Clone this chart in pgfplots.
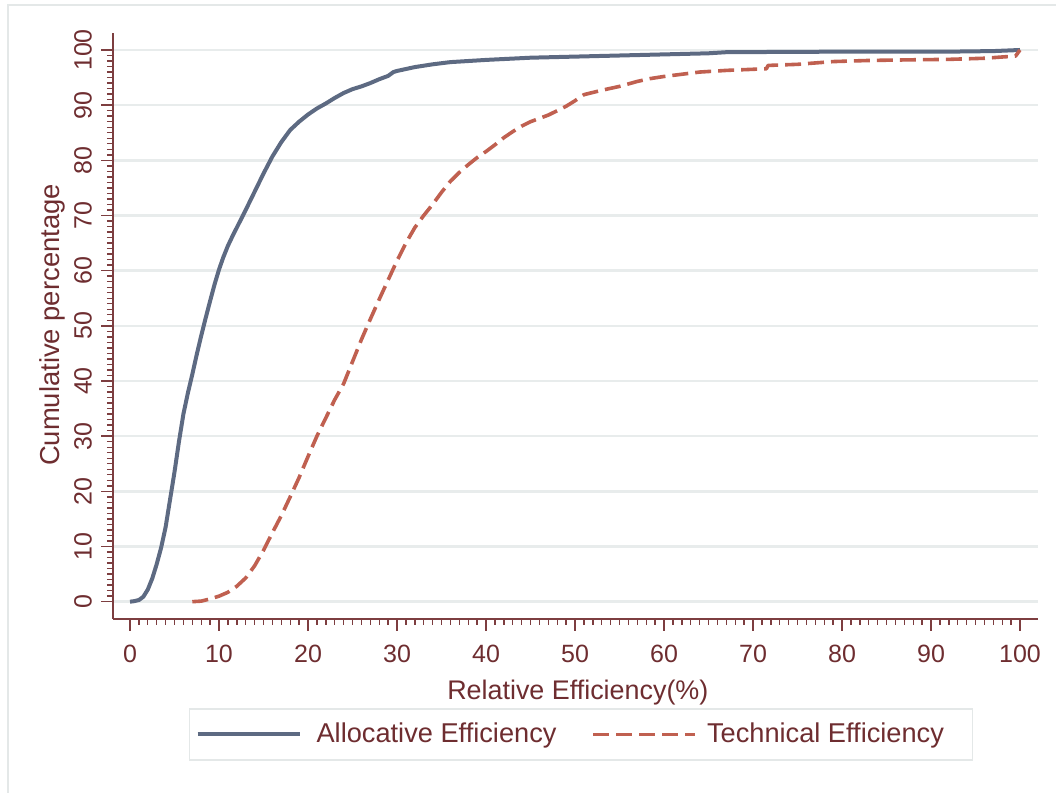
\documentclass[border=0pt]{standalone}
\usepackage{fontspec}
\setmainfont{Liberation Sans}
\usepackage{pgfplots}
\pgfplotsset{compat=1.18}
\definecolor{aecol}{RGB}{93,106,130}
\definecolor{tecol}{RGB}{192,96,80}
\definecolor{labcol}{RGB}{110,45,48}
\definecolor{axcol}{RGB}{125,62,64}
\definecolor{gridcol}{RGB}{232,236,236}
\definecolor{framecol}{RGB}{228,232,232}
\pgfplotstableread{
x y
0 0
0.5 0.1
1 0.3
1.5 0.9
2 2.2
2.5 4.2
3 6.8
3.5 9.8
4 13.5
4.5 18.5
5 23.5
5.5 29
6 34
6.5 37.8
7 41.2
7.5 44.8
8 48.2
8.5 51.4
9 54.5
9.5 57.5
10 60.2
10.5 62.5
11 64.5
11.5 66.2
12 67.8
12.5 69.4
13 71
14 74.3
15 77.6
16 80.7
17 83.3
18 85.5
19 87
20 88.3
21 89.4
22 90.3
23 91.3
24 92.2
25 92.9
26 93.4
27 94
28 94.7
29 95.3
29.6 96.0
30 96.2
32 96.9
34 97.4
36 97.8
38 98.0
40 98.2
45 98.6
50 98.8
55 99.0
60 99.2
65 99.4
67 99.6
80 99.7
92 99.7
97 99.8
100 100
}\allocative
\pgfplotstableread{
x y
7 0
8 0.1
9 0.5
10 1.0
11 1.7
12 2.8
13 4.3
14 6.5
15 9.3
16 12.5
17 15.6
18 19
19 22.5
20 26.3
21 30
22 33.3
23 36.6
24 39.5
25 43.5
26 47.5
27 51.2
28 54.8
29 58.3
30 61.8
31 65
32 67.8
33 70
34 72
35 74.2
36 76.2
37 77.8
38 79.2
39 80.5
40 81.6
41 82.8
42 84.1
43 85.2
44 86.2
45 87
46 87.6
47 88.2
48 89
49 89.8
50 90.8
51 91.9
52 92.3
53 92.7
55 93.4
57 94.3
58.4 94.8
60 95.2
62 95.6
64 96.0
67 96.3
71.5 96.6
71.7 97.2
75 97.4
79 97.9
83 98.1
87 98.2
92 98.3
96 98.5
99.5 98.9
100 100
}\technical
\begin{document}
\begin{tikzpicture}
\useasboundingbox (0,0) rectangle (528pt,396.5pt);
\draw[framecol, line width=0.9pt] (4pt,394pt) rectangle (540pt,-10pt);
\begin{axis}[
  at={(56.5pt,87pt)}, anchor=south west,
  scale only axis, width=462.5pt, height=293pt,
  xmin=-1.91, xmax=102.02, ymin=-3.14, ymax=103.08,
  axis x line*=bottom, axis y line*=left,
  axis line style={draw=axcol, line width=0.75pt, -},
  xtick={0,10,...,100}, ytick={0,10,...,100},
  minor x tick num=9, minor y tick num=9,
  tick align=outside,
  major tick length=5.85pt, minor tick length=3pt,
  tick style={draw=axcol, line width=0.7pt},
  ymajorgrids, grid style={draw=gridcol, line width=1.3pt},
  /pgf/number format/assume math mode=true,
  xticklabel style={font=\fontsize{12.5}{14}\selectfont, text=labcol},
  yticklabel style={font=\fontsize{12.5}{14}\selectfont, text=labcol, rotate=90, anchor=base},
  xticklabel shift=3.5pt,
  yticklabel shift=4.8pt,
  xlabel={Relative Efficiency(\%)},
  ylabel={Cumulative percentage},
  xlabel style={font=\fontsize{13.45}{15}\selectfont, text=labcol, at={(axis description cs:0.5025,-0.137)}, anchor=base},
  ylabel style={font=\fontsize{13.7}{15}\selectfont, text=labcol, at={(axis description cs:-0.0577,0.5017)}, anchor=base},
  legend style={at={(axis description cs:0.506,-0.197)}, anchor=center,
    draw=framecol, line width=0.8pt, font=\fontsize{13.6}{15}\selectfont, text=labcol,
    inner xsep=3pt, inner ysep=5pt,
    nodes={inner xsep=0pt},
    /tikz/column 1/.style={column sep=7.5pt},
    /tikz/column 2/.style={column sep=17.5pt},
    /tikz/column 3/.style={column sep=5pt}},
  legend columns=2,
  legend image code/.code={\draw[#1] (0pt,0pt) -- (51pt,0pt);},
  clip=false,
]
\addplot[aecol, line width=2pt, line join=round] table[x=x,y=y] {\allocative};
\addlegendentry{Allocative Efficiency}
\addplot[tecol, line width=1.8pt, dash pattern=on 8pt off 3.5pt, line join=round] table[x=x,y=y] {\technical};
\addlegendentry{\makebox[129.7pt][l]{Technical Efficiency}}
\end{axis}
\end{tikzpicture}
\end{document}
